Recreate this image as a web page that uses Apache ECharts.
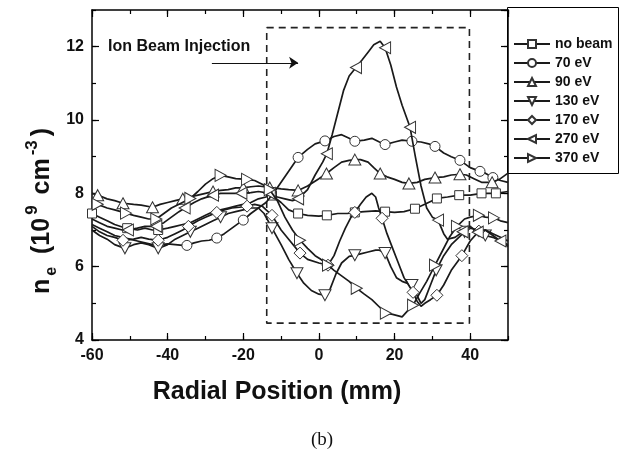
<!DOCTYPE html>
<html><head><meta charset="utf-8">
<script src="https://cdn.jsdelivr.net/npm/echarts@6/dist/echarts.min.js"></script>
<style>html,body{margin:0;padding:0;background:#fff}#c{width:624px;height:454px}</style>
</head><body><div id="c"></div>
<script>
// ---- data (x in mm, n_e in 1e9 cm^-3, third value 1 = marker drawn) ----
const seriesNames = ['no beam','70 eV','90 eV','130 eV','170 eV','270 eV','370 eV'];
const xTicks = [-60,-40,-20,0,20,40];
const yTicks = [4,6,8,10,12];

const noBeam = [[-60,7.45,1],[-58,7.35],[-56,7.25],[-54,7.15],[-52,7.08],[-50.7,7.05,1],[-48,7.0],[-46,7.05],[-44,7.0],[-42.5,7.0,1],[-40,7.05],[-38,7.1],[-36,7.15],[-34,7.2],[-32,7.3],[-30,7.4],[-28,7.5],[-26,7.55],[-24,7.6],[-22,7.65],[-20,7.7],[-18,7.75],[-16,7.85],[-14,7.9],[-12.4,7.94,1],[-10,7.75],[-8,7.55],[-5.5,7.45,1],[-3,7.4],[0,7.38],[2.1,7.4,1],[5,7.45],[7.5,7.45],[9.5,7.48,1],[12,7.5],[15,7.52],[17.5,7.5,1],[20,7.48],[22.5,7.5],[25.4,7.58,1],[28,7.7],[31.2,7.86,1],[34,7.9],[37.1,7.95,1],[40,7.95],[43,8.0,1],[46.8,8.0,1],[50,8.05]];

const ev70 = [[-60,7.15],[-58,7.05],[-56,6.95],[-54,6.85],[-52,6.8],[-50,6.75],[-48,6.7],[-46,6.65],[-44,6.6],[-42,6.6],[-40,6.62],[-38,6.6],[-36,6.58],[-34.9,6.58,1],[-33,6.65],[-31,6.7],[-29,6.72],[-27,6.78,1],[-25,6.9],[-23,7.05],[-21,7.2],[-20,7.27,1],[-18,7.45],[-16,7.6],[-14,7.75],[-12,8.0],[-10,8.3],[-8,8.6],[-5.5,8.98,1],[-3,9.2],[-1,9.35],[1.6,9.43,1],[4,9.55],[6,9.6],[8,9.5],[9.5,9.42,1],[12,9.45],[14,9.5],[16,9.4],[17.5,9.33,1],[20,9.4],[22,9.45],[24.6,9.42,1],[27,9.4],[29,9.35],[30.7,9.28,1],[33,9.1],[35,9.0],[37.3,8.9,1],[40,8.7],[42.6,8.6,1],[44,8.55],[46,8.43,1],[48,8.35],[50,8.3]];

const ev90 = [[-60,8.0],[-58.5,7.95,1],[-56,7.85],[-54,7.8],[-51.8,7.73,1],[-49,7.7],[-47,7.68],[-44,7.62,1],[-42,7.7],[-40,7.75],[-38,7.8],[-36,7.85,1],[-34,7.9],[-32,7.95],[-30,8.0],[-28,8.05,1],[-26,8.08],[-24,8.1],[-22,8.15],[-20,8.15,1],[-18,8.18],[-16,8.2],[-13,8.16,1],[-10,8.12],[-8,8.1],[-5.5,8.08,1],[-3,8.2],[0,8.4],[2,8.54,1],[4,8.7],[6,8.85],[8,8.9],[9.5,8.92,1],[11,8.92],[13,8.85],[14.5,8.7],[16.2,8.54,1],[18,8.45],[20,8.38],[22,8.3],[23.8,8.27,1],[26,8.3],[28,8.38],[30.7,8.43,1],[33,8.45],[35,8.5],[37.3,8.52,1],[39,8.5],[41,8.4],[43,8.3],[45.8,8.3,1],[48,8.4],[50,8.55]];

const ev130 = [[-60,7.0],[-58,6.85],[-56,6.75],[-54,6.6],[-51.3,6.5,1],[-49,6.6],[-47,6.65],[-45,6.6],[-42.5,6.5,1],[-40,6.6],[-38,6.75],[-36,6.85],[-34,6.95,1],[-32,7.05],[-30,7.15],[-28,7.25],[-26,7.35,1],[-24,7.45],[-22,7.5],[-20,7.55],[-18,7.6],[-16,7.6],[-14.5,7.45],[-12.4,7.05,1],[-10,6.6],[-8,6.2],[-5.8,5.82,1],[-4,5.55],[-2,5.35],[0,5.25],[1.6,5.22,1],[3,5.4],[4.5,5.8],[6,6.1],[8,6.28],[9.5,6.31,1],[11,6.35],[13,6.4],[15,6.45],[16,6.45],[17.5,6.37,1],[19,6.0],[20.5,5.7],[22,5.6],[24.6,5.5,1],[26,5.2],[27,5.0],[28,5.1],[29.5,5.5],[31,5.9,1],[33,6.3],[35,6.6],[37,6.8],[38.5,6.95,1],[40,7.05],[42,7.0],[44,6.85,1],[46,6.8],[48,6.7],[50,6.6]];

const ev170 = [[-60,7.1],[-58,6.95],[-56,6.85],[-54,6.8],[-51.8,6.72,1],[-49,6.75],[-47,6.8],[-45,6.75],[-42.5,6.72,1],[-40,6.8],[-38,6.9],[-36,7.0],[-34.5,7.1,1],[-32,7.25],[-30,7.35],[-27,7.48,1],[-25,7.55],[-23,7.6],[-21,7.62],[-19,7.65,1],[-17,7.7],[-15,7.65],[-12.4,7.4,1],[-10,7.0],[-8,6.75],[-5,6.37,1],[-3,6.2],[0,6.1],[2.4,6.04,1],[4,6.3],[5.5,6.7],[7,7.05],[8.5,7.35],[9.5,7.48,1],[11,7.7],[12.5,7.9],[14,8.0],[15,7.9],[15.8,7.6],[16.7,7.32,1],[18,6.9],[19.5,6.5],[21,6.1],[22.5,5.7],[24,5.45],[24.9,5.3,1],[26,5.05],[27,4.92],[28,5.0],[29.5,5.1],[31.2,5.22,1],[33,5.5],[35,5.9],[37.8,6.3,1],[40,6.7],[42.3,6.97,1],[44,7.0],[46,6.9],[48,6.8],[50,6.7]];

const ev270 = [[-60,7.3],[-58,7.2],[-56,7.1],[-54,7.05],[-52,7.0],[-50.5,7.0,1],[-48,7.05],[-46,7.1],[-43,7.1,1],[-41,7.2],[-39,7.35],[-37,7.5],[-35.5,7.6,1],[-33,7.75],[-31,7.85],[-28,7.95,1],[-26,8.0],[-24,8.0],[-22,8.0],[-20.5,8.0,1],[-18,8.02],[-16,8.05],[-13,8.0,1],[-11,7.9],[-9,7.85],[-7,7.8],[-5.5,7.85,1],[-3,8.1],[-1,8.5],[1,8.85],[2.1,9.08,1],[3.5,9.6],[5,10.2],[6.5,10.8],[8,11.2],[9.8,11.43,1],[11.5,11.65],[13,11.85],[14.5,12.05],[16.2,12.15],[17.5,11.97,1],[19,11.5],[20.5,10.9],[22,10.4],[24.1,9.8,1],[25.5,9.0],[27,8.2],[28.5,7.6],[30,7.35],[31.5,7.27,1],[33,6.9],[34,6.75],[36,6.8],[38,6.95,1],[40,7.1],[42,6.94,1],[44,7.0],[46,6.85],[48,6.7,1],[50,6.55]];

const ev370 = [[-60,7.75],[-58.5,7.7,1],[-56,7.6],[-54,7.55],[-51,7.46,1],[-49,7.4],[-47,7.35],[-45,7.3],[-43,7.3,1],[-41,7.45],[-39,7.6],[-37,7.7],[-34,7.86,1],[-32,8.05],[-30,8.25],[-28,8.4],[-26,8.49,1],[-24,8.45],[-22,8.4],[-19,8.38,1],[-17,8.35],[-15,8.25],[-13,8.1,1],[-11,7.8],[-9,7.35],[-7,7.0],[-5,6.72,1],[-3,6.5],[-1,6.3],[0.5,6.2],[2.4,6.04,1],[4,5.9],[6,5.75],[8,5.6],[10,5.41,1],[12,5.25],[14,5.1],[16,4.9],[17.7,4.73,1],[19.5,4.7],[22,4.63],[23.5,4.8],[24.9,4.95,1],[26.5,5.25],[28.5,5.6],[30.7,6.04,1],[32.5,6.4],[34.5,6.8],[36.5,7.1,1],[38.5,7.3],[40,7.35],[42.3,7.4,1],[44,7.35],[46.3,7.33,1],[48,7.25],[50,7.2]];

const allCurves = [noBeam, ev70, ev90, ev130, ev170, ev270, ev370];

// dashed "ion beam" region and arrow
const boxX = [-13.8, 39.8, 39.8, -13.8, -13.8];
const boxY = [12.52, 12.52, 4.46, 4.46, 12.52];
const arrowX = [-28.3, -5.5];
const arrowY = [11.56, 11.56];

// ---- styles ----
const markerStyles = [
  {symbol:'rect', size:9, rotate:0},
  {symbol:'circle', size:10, rotate:0},
  {symbol:'triangle', size:[12,11], rotate:0},
  {symbol:'triangle', size:[12,11], rotate:180},
  {symbol:'diamond', size:[12,12], rotate:0},
  {symbol:'triangle', size:[12,11], rotate:90},
  {symbol:'triangle', size:[12,11], rotate:-90}
];
const ink = '#1a1a1a';
const sansBold = 'Arial, "Liberation Sans", sans-serif';
const labelFont = {fontFamily:sansBold, fontWeight:'bold', fontSize:16, color:'#111'};

const series = allCurves.map((pts, i) => ({
  type:'line', name: seriesNames[i], xAxisIndex:0, yAxisIndex:0,
  symbol: markerStyles[i].symbol, symbolSize: markerStyles[i].size, symbolRotate: markerStyles[i].rotate,
  showSymbol:true,
  lineStyle:{color:ink, width:1.7},
  itemStyle:{color:'#fff', borderColor:'#333', borderWidth:1},
  emphasis:{disabled:true},
  z: 3 + i,
  data: pts.map(p => p[2] ? {value:[p[0],p[1]]} : {value:[p[0],p[1]], symbol:'none'})
}));

series.push({
  type:'line', name:'region', xAxisIndex:0, yAxisIndex:0, showSymbol:false, symbol:'none',
  lineStyle:{color:'#222', width:1.6, type:[7,5]}, itemStyle:{color:'#111'}, silent:true, z:2,
  data: boxX.map((x,k)=>[x, boxY[k]]),
  markLine:{
    silent:true, symbol:['none','arrow'], symbolSize:9,
    itemStyle:{color:'#111'},
    lineStyle:{color:'#111', width:1, type:'solid'}, label:{show:false},
    data:[[{coord:[arrowX[0],arrowY[0]]},{coord:[arrowX[1],arrowY[1]]}]]
  }
});

function xAx(pos, interval, len, labels, line){
  return {type:'value', min:-60, max:50, interval, position:pos,
    axisLine:{show:line, onZero:false, lineStyle:{color:'#000', width:1.5}},
    axisTick:{show:true, inside:true, length:len, lineStyle:{color:'#000', width:1.2}},
    axisLabel:{show:labels, margin:8, showMaxLabel:false, ...labelFont,
      formatter: v => xTicks.includes(v) ? String(v) : ''},
    splitLine:{show:false}};
}
function yAx(pos, interval, len, labels, line){
  return {type:'value', min:4, max:13, interval, position:pos,
    axisLine:{show:line, onZero:false, lineStyle:{color:'#000', width:1.5}},
    axisTick:{show:true, inside:true, length:len, lineStyle:{color:'#000', width:1.2}},
    axisLabel:{show:labels, margin:8, showMaxLabel:false, ...labelFont,
      formatter: v => yTicks.includes(v) ? String(v) : ''},
    splitLine:{show:false}};
}

const chart = echarts.init(document.getElementById('c'), null, {renderer:'canvas'});
chart.setOption({
  animation:false,
  backgroundColor:'#fff',
  grid:{left:92, top:10, width:416, height:330},
  xAxis:[xAx('bottom',20,7,true,true), xAx('bottom',10,4,false,false), xAx('top',20,7,false,true), xAx('top',10,4,false,false)],
  yAxis:[yAx('left',2,7,true,true), yAx('left',1,4,false,false), yAx('right',2,7,false,true), yAx('right',1,4,false,false)],
  legend:{
    data: seriesNames, orient:'vertical', left:513, top:36, padding:0,
    itemWidth:36, itemHeight:10, itemGap:3, selectedMode:false,
    textStyle:{fontFamily:sansBold, fontWeight:'bold', fontSize:14, color:'#111', lineHeight:16}
  },
  graphic:[
    {type:'rect', shape:{x:507.5, y:7.5, width:111, height:166}, style:{fill:'#fff', stroke:'#000', lineWidth:1}, z:0, silent:true},
    {type:'text', left:108, top:39, style:{text:'Ion Beam Injection', font:'bold 16px ' + sansBold, fill:'#111'}, z:10},
    {type:'text', x:277, y:392, style:{text:'Radial Position (mm)', font:'bold 25px ' + sansBold, fill:'#111', align:'center', verticalAlign:'middle'}, z:10},
    {type:'text', x:42, y:211, rotation:Math.PI/2,
      style:{text:'{n|n}{sub|e}{n| (10}{sup|9}{n| cm}{sup|-3}{n|)}', align:'center', verticalAlign:'middle',
        rich:{
          n:{font:'bold 25px ' + sansBold, fill:'#111', lineHeight:36, verticalAlign:'middle', padding:[0,1,0,1]},
          sub:{font:'bold 16px ' + sansBold, fill:'#111', lineHeight:36, verticalAlign:'bottom', padding:[0,5,0,2]},
          sup:{font:'bold 17px ' + sansBold, fill:'#111', lineHeight:36, verticalAlign:'top', padding:[0,3,0,2]}
        }}, z:10},
    {type:'text', x:322, y:440, style:{text:'(b)', font:'19px "Liberation Serif", "Times New Roman", serif', fill:'#111', align:'center', verticalAlign:'middle'}, z:10}
  ],
  series
});
</script></body></html>
